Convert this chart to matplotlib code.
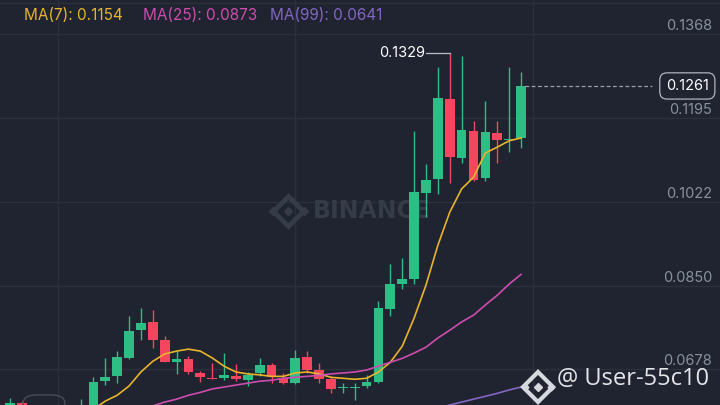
import matplotlib
matplotlib.use("Agg")
import matplotlib.pyplot as plt
from matplotlib.patches import FancyBboxPatch

# candle data (oldest -> newest)
opens  = [0.0593, 0.0608, 0.0594, 0.0588, 0.0584, 0.0590, 0.0590, 0.0598, 0.0654, 0.0663,
          0.0701, 0.0758, 0.0775, 0.0738, 0.0692, 0.0698, 0.0670, 0.0660, 0.0659, 0.0664,
          0.0655, 0.0670, 0.0686, 0.0660, 0.0649, 0.0702, 0.0676, 0.0657, 0.0639, 0.0640,
          0.0644, 0.0652, 0.0802, 0.0853, 0.0863, 0.1040, 0.1069, 0.1234, 0.1113, 0.1169,
          0.1071, 0.1164, 0.1150, 0.1154]
highs  = [0.0618, 0.0612, 0.0600, 0.0596, 0.0598, 0.0600, 0.0616, 0.0661, 0.0701, 0.0715,
          0.0787, 0.0804, 0.0799, 0.0746, 0.0715, 0.0705, 0.0674, 0.0690, 0.0711, 0.0688,
          0.0672, 0.0701, 0.0690, 0.0670, 0.0717, 0.0715, 0.0690, 0.0663, 0.0649, 0.0649,
          0.0666, 0.0818, 0.0894, 0.0907, 0.1169, 0.1100, 0.1301, 0.1329, 0.1323, 0.1189,
          0.1230, 0.1189, 0.1301, 0.1290]
lows   = [0.0589, 0.0590, 0.0583, 0.0578, 0.0580, 0.0582, 0.0585, 0.0592, 0.0645, 0.0649,
          0.0698, 0.0738, 0.0721, 0.0692, 0.0668, 0.0668, 0.0651, 0.0657, 0.0655, 0.0654,
          0.0643, 0.0663, 0.0649, 0.0647, 0.0647, 0.0670, 0.0649, 0.0629, 0.0628, 0.0614,
          0.0639, 0.0650, 0.0788, 0.0843, 0.0853, 0.0992, 0.1038, 0.1061, 0.1102, 0.1065,
          0.1065, 0.1102, 0.1126, 0.1133]
closes = [0.0608, 0.0595, 0.0588, 0.0584, 0.0590, 0.0586, 0.0600, 0.0652, 0.0662, 0.0703,
          0.0757, 0.0773, 0.0738, 0.0692, 0.0698, 0.0672, 0.0661, 0.0657, 0.0666, 0.0657,
          0.0666, 0.0686, 0.0661, 0.0649, 0.0701, 0.0676, 0.0657, 0.0637, 0.0640, 0.0641,
          0.0652, 0.0804, 0.0853, 0.0863, 0.1043, 0.1067, 0.1236, 0.1115, 0.1170, 0.1067,
          0.1166, 0.1150, 0.1152, 0.1261]

# moving averages (they start part way along)
ma7 = [0.0595, 0.0612, 0.0624, 0.0643, 0.0672, 0.0694, 0.0709, 0.0715, 0.0719, 0.0715,
       0.0701, 0.0684, 0.0672, 0.0668, 0.0666, 0.0663, 0.0663, 0.0670, 0.0672, 0.0668,
       0.0661, 0.0659, 0.0657, 0.0659, 0.0672, 0.0692, 0.0725, 0.0783, 0.0851, 0.0933,
       0.1001, 0.1049, 0.1073, 0.1123, 0.1135, 0.1148, 0.1154]
ma25 = [0.0602, 0.0610, 0.0616, 0.0624, 0.0630, 0.0637, 0.0641, 0.0645, 0.0649, 0.0653,
        0.0655, 0.0659, 0.0661, 0.0663, 0.0665, 0.0668, 0.0670, 0.0672, 0.0676, 0.0684,
        0.0692, 0.0700, 0.0711, 0.0723, 0.0742, 0.0758, 0.0775, 0.0789, 0.0810, 0.0830,
        0.0853, 0.0873]
ma99 = [0.0598, 0.0604, 0.0610, 0.0616, 0.0622, 0.0628, 0.0635, 0.0641]

price_ticks = [0.1368, 0.1195, 0.1022, 0.0850, 0.0678]
last_price = 0.1261
top_price = 0.1329

bg = "#1f2430"
grid_c = "#2b303b"
up_c = "#2ebd85"
down_c = "#f4475f"
ma7_c = "#e9b42c"
ma25_c = "#cf4caf"
ma99_c = "#8466c4"
label_c = "#8a919e"
wm_c = "#353b47"

plt.rcParams["font.family"] = ["Inter", "DejaVu Sans"]

fig = plt.figure(figsize=(7.2, 4.05), dpi=100, facecolor=bg)
ax = fig.add_axes([0, 0, 1, 1])
ax.set_facecolor(bg)

n = len(closes)
xs = list(range(n))

# grid
for p in price_ticks:
    ax.axhline(p, color=grid_c, lw=1.0, zorder=0)
ax.axhline(0.1432, color=grid_c, lw=1.0, zorder=0)
for gx in [4, 24, 44]:
    ax.axvline(gx, color=grid_c, lw=1.0, zorder=0)

# watermark
ax.text(25.5, 0.1003, "BINANCE", color=wm_c, fontsize=17, fontweight="bold",
        family="DejaVu Sans", ha="left", va="center", zorder=1)
ax.plot([23.4], [0.1003], marker="D", ms=15, mfc="none", mec=wm_c, mew=3.5, zorder=1)
ax.plot([23.4], [0.1003], marker="D", ms=4, color=wm_c, zorder=1)
ax.plot([22.1, 24.7], [0.1003, 0.1003], "D", ms=4, color=wm_c, zorder=1)

# candles
for x, o, h, l, c in zip(xs, opens, highs, lows, closes):
    col = up_c if c >= o else down_c
    ax.vlines(x, l, h, color=col, lw=1.0, zorder=2)
    ax.bar(x, max(abs(c - o), 0.00012), bottom=min(o, c), width=0.82, color=col,
           linewidth=0, zorder=3)

# moving averages
ax.plot(xs[n - len(ma7):], ma7, color=ma7_c, lw=1.2, zorder=4)
ax.plot(xs[n - len(ma25):], ma25, color=ma25_c, lw=1.2, zorder=4)
ax.plot(xs[n - len(ma99):], ma99, color=ma99_c, lw=1.2, zorder=4)

# high marker
hi_i = highs.index(max(highs))
ax.plot([hi_i - 2.0, hi_i], [top_price, top_price], color="#b7bdc6", lw=0.9, zorder=4)
ax.text(hi_i - 2.1, top_price, f"{top_price:.4f}", color="white", fontsize=10.5,
        ha="right", va="center", zorder=5)

# last price
ax.plot([n - 0.7, 54.0], [last_price, last_price], color="#9aa0aa", lw=0.9,
        ls=(0, (3, 2)), zorder=4)
ax.text(57.0, last_price, f"{last_price:.4f}", color="white", fontsize=10.5,
        ha="center", va="center", zorder=6,
        bbox=dict(boxstyle="round,pad=0.42,rounding_size=0.5", fc=bg, ec="#aeb4bd", lw=0.9))

# price labels on the right
for p in price_ticks:
    ax.annotate(f"{p:.4f}", xy=(1, p), xycoords=("axes fraction", "data"),
                xytext=(-8, 8), textcoords="offset pixels", ha="right", va="center",
                color=label_c, fontsize=10.5, zorder=5)

ax.set_xlim(-0.86, 59.75)
ax.set_ylim(0.0604, 0.1438)
ax.axis("off")

# MA header
fig.text(24 / 720, 1 - 16 / 405, f"MA(7): {ma7[-1]:.4f}", color=ma7_c, fontsize=11, va="center")
fig.text(143 / 720, 1 - 16 / 405, f"MA(25): {ma25[-1]:.4f}", color=ma25_c, fontsize=11, va="center")
fig.text(270 / 720, 1 - 16 / 405, f"MA(99): {ma99[-1]:.4f}", color=ma99_c, fontsize=11, va="center")

# bottom-right user tag
ax.plot([44.4], [0.0641], marker="D", ms=15, mfc="none", mec="#d5d8dc", mew=3.0, zorder=6)
ax.plot([44.4], [0.0641], marker="D", ms=4, color="#d5d8dc", zorder=6)
ax.plot([43.3, 45.5], [0.0641, 0.0641], "D", ms=3.5, color="#d5d8dc", zorder=6)
fig.text(557 / 720, 1 - 379 / 405, "@ User-55c10", color="#e3e5e8", fontsize=17,
         family=["Open Sans", "DejaVu Sans"], va="center")

# small UI element at the bottom left
fig.patches.append(FancyBboxPatch((23 / 720, -0.02), 42 / 720, 0.045,
                                  boxstyle="round,pad=0,rounding_size=0.02",
                                  transform=fig.transFigure, fc="none", ec="#474d57", lw=1.0))

fig.savefig("out.png", dpi=100, facecolor=bg)
